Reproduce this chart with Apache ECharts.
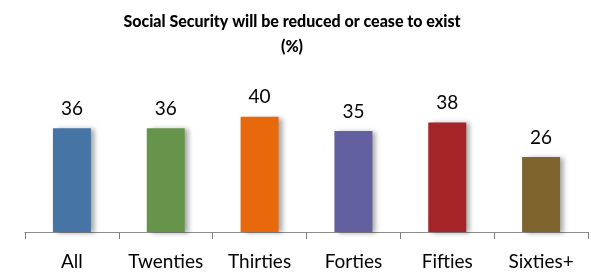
<!DOCTYPE html>
<html>
<head>
<meta charset="utf-8">
<script src="https://cdn.jsdelivr.net/npm/echarts@6/dist/echarts.min.js"></script>
<style>
  html, body { margin: 0; padding: 0; background: #fff; }
  #chart { width: 591px; height: 273px; }
</style>
</head>
<body>
<div id="chart"></div>
<script>
// 数据
const categories = ['All', 'Twenties', 'Thirties', 'Forties', 'Fifties', 'Sixties+'];
const values = [36, 36, 40, 35, 38, 26];
const barColors = ['#4674A5', '#66944A', '#E8680C', '#62609E', '#A52428', '#7F6430'];

const chart = echarts.init(document.getElementById('chart'));

const option = {
    animation: false,
    title: {
        text: 'Social Security will be reduced or cease to exist\n(%)',
        left: 287,
        textAlign: 'center',
        top: 4,
        textStyle: {
            fontFamily: 'Lato',
            fontSize: 16,
            fontWeight: 900,
            color: '#000',
            lineHeight: 25
        }
    },
    grid: {
        left: 25,
        right: 3,
        top: 59,
        height: 173
    },
    xAxis: {
        type: 'category',
        data: categories,
        boundaryGap: true,
        axisLine: { show: true, lineStyle: { color: '#8c8c8c', width: 1 } },
        axisTick: {
            show: true,
            alignWithLabel: false,
            length: 7,
            interval: 0,
            lineStyle: { color: '#7f7f7f', width: 1 }
        },
        axisLabel: {
            interval: 0,
            hideOverlap: false,
            fontFamily: 'Lato',
            fontSize: 19,
            color: '#000',
            margin: 20
        }
    },
    yAxis: {
        type: 'value',
        min: 0,
        max: 60,
        show: false,
        splitLine: { show: false }
    },
    series: [{
        type: 'bar',
        barWidth: 38,
        data: values.map((v, i) => ({
            value: v,
            itemStyle: { color: barColors[i] }
        })),
        itemStyle: {
            shadowColor: 'rgba(0,0,0,0.35)',
            shadowBlur: 5,
            shadowOffsetX: 4,
            shadowOffsetY: 1
        },
        label: {
            show: true,
            position: 'top',
            distance: 10,
            fontFamily: 'Lato',
            fontSize: 19,
            color: '#000'
        }
    }]
};

chart.setOption(option);
</script>
</body>
</html>
